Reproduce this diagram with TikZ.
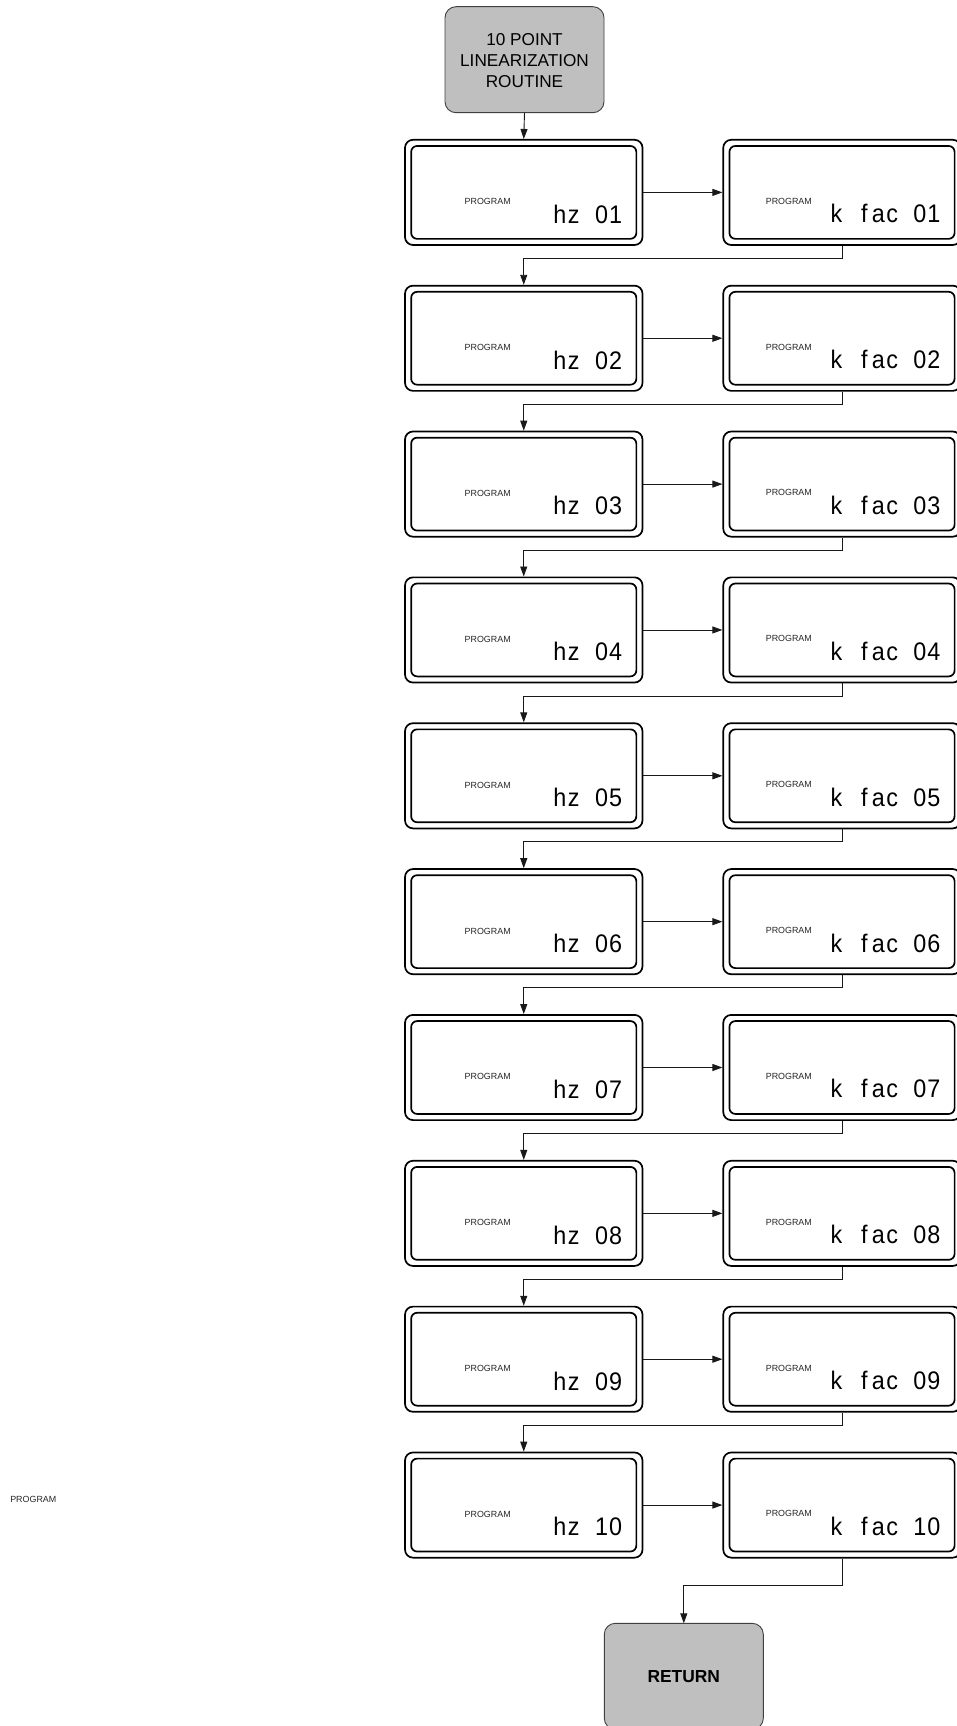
\documentclass[tikz,border=0pt]{standalone}
\usepackage{fontspec}
\setmainfont{Liberation Sans}
\newfontfamily\lcdfont[FakeStretch=0.92]{Liberation Sans}
\usetikzlibrary{arrows.meta}
\newcommand\lcdc[1]{\makebox[13.9pt]{#1}}
\begin{document}
\begin{tikzpicture}[x=1pt,y=-1pt,
  every node/.style={inner sep=0pt, outer sep=0pt},
  term/.style={draw=black!75, line width=0.9pt, fill=black!25, rounded corners=11pt, align=center, minimum width=159pt, minimum height=106pt},
  dispbox/.style={draw, line width=1.7pt, rounded corners=8pt, outer sep=0.85pt, minimum width=237.5pt, minimum height=105.2pt},
  innerbox/.style={draw, line width=1.7pt, rounded corners=6pt},
  prog/.style={font=\fontsize{8.9}{10}\selectfont, text=black!85},
  lcd/.style={font=\lcdfont\fontsize{25.4}{28}\selectfont},
  conn/.style={draw=black!90, line width=0.9pt, -{Triangle[length=10pt,width=7pt]}}
]
\useasboundingbox (0,0) rectangle (956,1726);

\node[term, font=\fontsize{17.2}{21}\selectfont] (start) at (524.5,59.7)
  {\rule{0pt}{14pt}10 POINT\\LINEARIZATION\\ROUTINE};

\foreach \i/\a/\b [evaluate=\i as \T using 139+145.85*(\i-1)] in {1/0/1,2/0/2,3/0/3,4/0/4,5/0/5,6/0/6,7/0/7,8/0/8,9/0/9,10/1/0}{
  \node[dispbox] (hz\i) at (523.75, \T+53.4) {};
  \node[dispbox] (k\i) at (842, \T+53.4) {};
  \draw[innerbox] ([shift={(7,7)}]hz\i.north west) rectangle ([shift={(-7,-7)}]hz\i.south east);
  \draw[innerbox] ([shift={(7,7)}]k\i.north west) rectangle ([shift={(-7,-7)}]k\i.south east);
  \node[prog] (ph\i) at (487.7, \T+62.7) {PROGRAM};
  \node[prog] (pk\i) at (788.8, \T+62.2) {PROGRAM};
  \node[lcd, anchor=base east] (th\i) at (622.5, \T+84.2) {\lcdc{h}\lcdc{z}\lcdc{}\lcdc{\a}\lcdc{\b}};
  \node[lcd, anchor=base east] (tk\i) at (940.8, \T+83.8) {\lcdc{k}\lcdc{}\lcdc{f}\lcdc{a}\lcdc{c}\lcdc{}\lcdc{\a}\lcdc{\b}};
}

\node[term, font=\bfseries\fontsize{17.4}{20}\selectfont] (ret) at (683.8,1676.3) {RETURN};

\node[prog] (stray) at (33.3,1499) {PROGRAM};

\draw[conn] (start.south) -- (hz1.north);
\foreach \i in {1,...,10} \draw[conn] (hz\i.east) -- (k\i.west);
\foreach \i [count=\j from 2] in {1,...,9} \draw[conn] (k\i.south) -- ++(0,12.6) -| (hz\j.north);
\draw[conn] (k10.south) -- ++(0,26.7) -| (ret.north);
\end{tikzpicture}
\end{document}
